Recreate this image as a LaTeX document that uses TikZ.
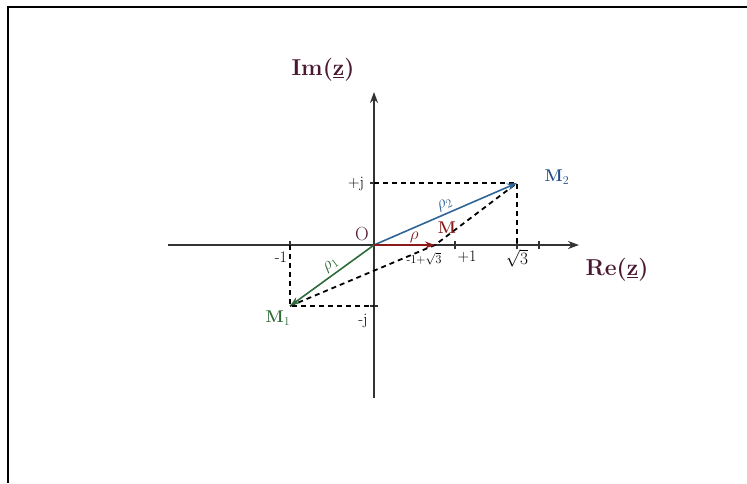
\documentclass[tikz,border=0pt]{standalone}
\usetikzlibrary{arrows.meta}
\definecolor{maroon}{HTML}{4A1830}
\definecolor{vblue}{HTML}{2F6496}
\definecolor{lblue}{HTML}{1F4E8C}
\definecolor{vgreen}{HTML}{2E6B3A}
\definecolor{vred}{HTML}{8B1A1A}
\definecolor{axisgray}{HTML}{333333}
\tikzset{
  axisline/.style={draw=axisgray, line width=2pt},
  dashline/.style={draw=black, line width=1.8pt, dash pattern=on 5pt off 4pt},
  vec/.style={line width=1.6pt, -{Stealth[length=10pt,width=7pt]}},
  ticklabel/.style={font=\fontsize{16}{17}\selectfont, inner sep=1pt},
  ptlabel/.style={font=\fontsize{17}{18}\selectfont\bfseries, inner sep=1pt},
  axlabel/.style={font=\fontsize{23}{26}\selectfont\bfseries, text=maroon, inner sep=1pt},
  rholabel/.style={font=\fontsize{17}{18}\selectfont, inner sep=2.5pt},
}
\begin{document}
\begin{tikzpicture}[x=1pt,y=-1pt]
\useasboundingbox (0,0) rectangle (747,483);
\draw[line width=2.2pt] (747,7) -- (8,7) -- (8,483);
% points
\coordinate (O) at (374,245);
\coordinate (M1) at (290,306);
\coordinate (M2) at (517,183);
\coordinate (M) at (435,245);
\coordinate (xs) at (168,245);
\coordinate (xe) at (579,245);
\coordinate (ys) at (374,398);
\coordinate (ye) at (374,92);
\coordinate (tp1) at (455,245);
\coordinate (tp2) at (539,245);
\coordinate (tm1) at (290,245);
\coordinate (tpj) at (374,183);
\coordinate (tmj) at (374,306);
\coordinate (tr3) at (517,245);
% axes
\draw[axisline, -{Stealth[length=11pt,width=8pt]}] (xs) -- (xe);
\draw[axisline, -{Stealth[length=11pt,width=8pt]}] (ys) -- (ye);
\foreach \t in {tp1,tp2,tm1,tr3} \draw[axisline, line width=1.8pt] ([yshift=-4pt]\t) -- ([yshift=4pt]\t);
\foreach \t in {tpj,tmj} \draw[axisline, line width=1.8pt] ([xshift=-4pt]\t) -- ([xshift=4pt]\t);
% dashed construction
\draw[dashline] (tpj) -- (M2) -- (tr3);
\draw[dashline] (tm1) -- (M1) -- (tmj);
\draw[dashline] (M1) -- (M) -- (M2);
% vectors
\draw[vec, vblue] (O) -- (M2) node[pos=0.52, sloped, above, text=vblue, rholabel] {$\rho_2$};
\draw[vec, vgreen] (O) -- (M1) node[pos=0.45, sloped, above, text=vgreen, rholabel] {$\rho_1$};
\draw[vec, vred] (O) -- (M) node[pos=0.66, above, text=vred, rholabel, inner sep=1pt] {$\rho$};
% labels
\node[axlabel] (im) at (323,70) {Im(\underline{z})};
\node[axlabel] (re) at (617,270) {Re(\underline{z})};
\node[font=\fontsize{19}{20}\selectfont, text=maroon] (olab) at (362,234) {O};
\node[ticklabel] (lpj) at (356,184) {+j};
\node[ticklabel] (lmj) at (363,321) {-j};
\node[ticklabel] (lm1) at (281,257) {-1};
\node[ticklabel] (lp1) at (467,257) {+1};
\node[ticklabel] (lr3) at (517,258) {$\sqrt{3}$};
\node[ticklabel, font=\fontsize{12}{13}\selectfont] (lm) at (424,259) {-1+$\sqrt{3}$};
\node[ptlabel, text=lblue] (lM2) at (557,177) {M$_2$};
\node[ptlabel, text=vgreen] (lM1) at (278,318) {M$_1$};
\node[ptlabel, text=vred] (lM) at (447,228) {M};
\end{tikzpicture}
\end{document}
